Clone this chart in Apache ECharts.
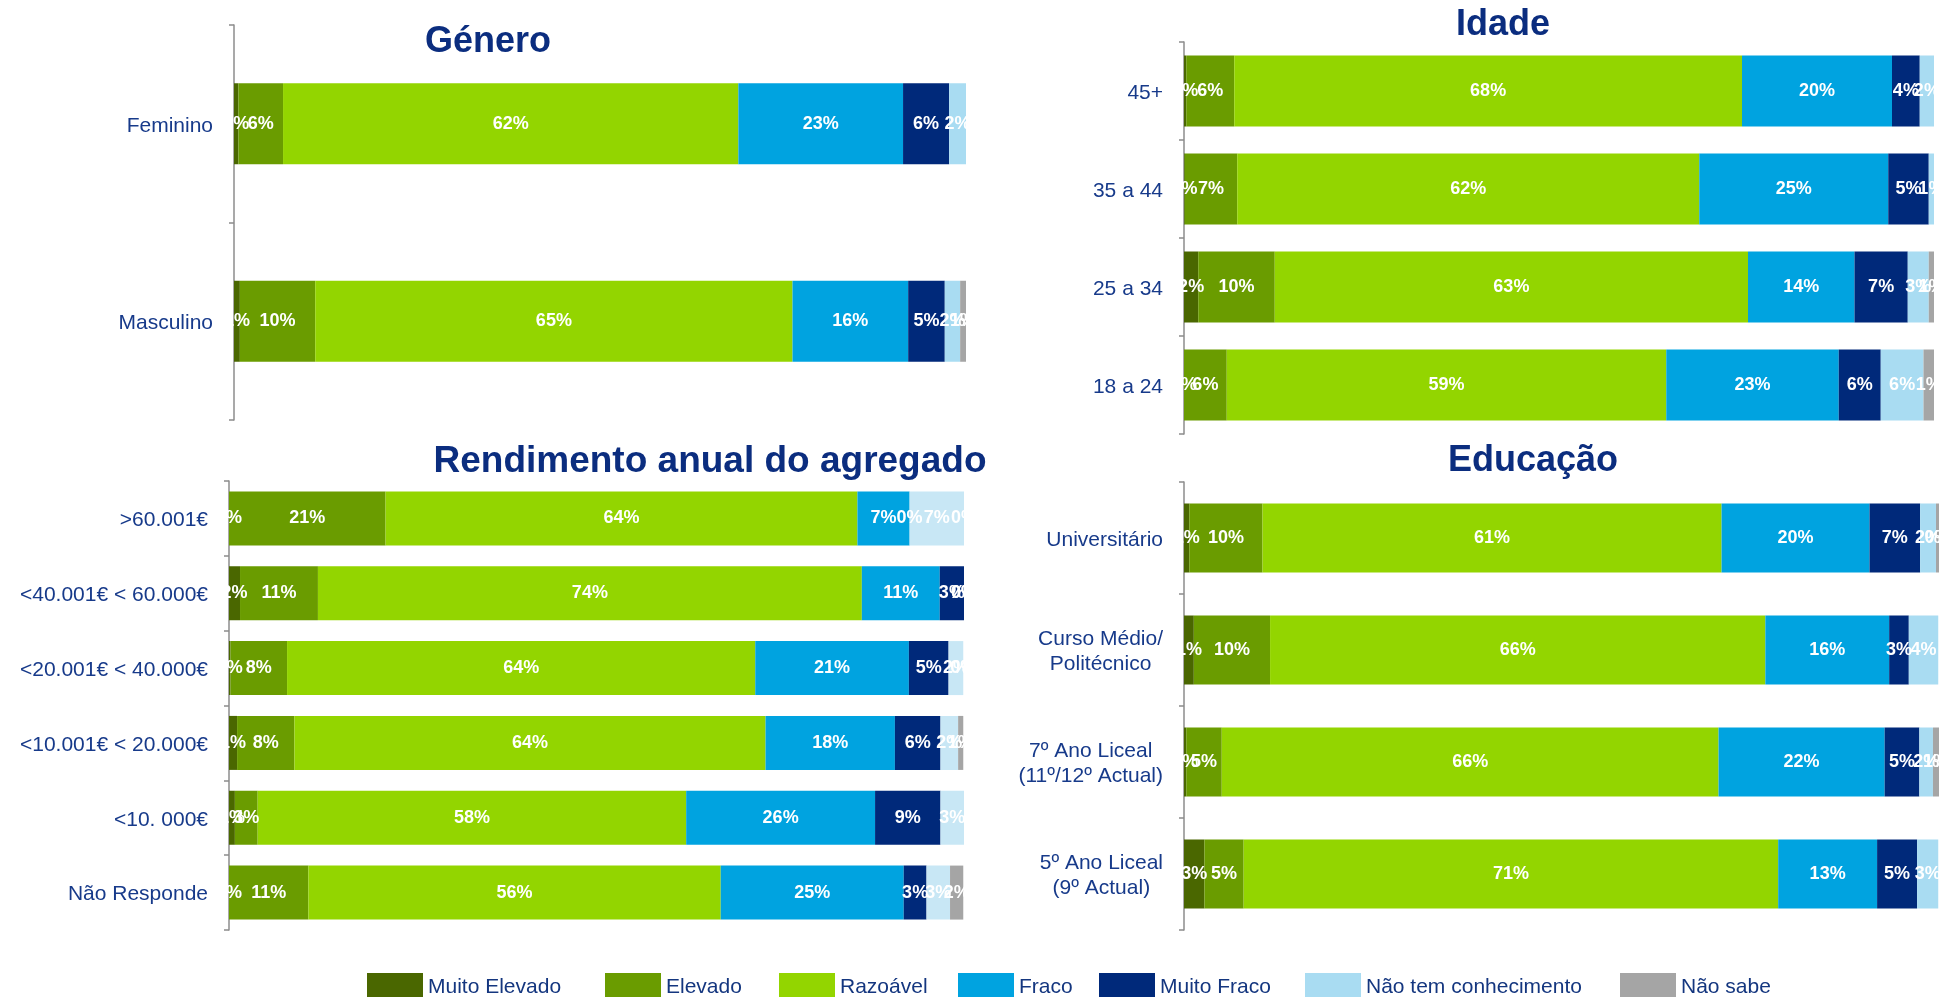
<!DOCTYPE html>
<html>
<head>
<meta charset="utf-8">
<script src="https://cdn.jsdelivr.net/npm/echarts@6/dist/echarts.min.js"></script>
<style>
html,body{margin:0;padding:0;background:#fff;}
#chart{width:1939px;height:997px;}
</style>
</head>
<body>
<div id="chart"></div>
<script>
// ---------- DATA ----------
const levels = ['Muito Elevado', 'Elevado', 'Razoável', 'Fraco', 'Muito Fraco', 'Não tem conhecimento', 'Não sabe'];

// Género (values in % per level, in the order of `levels`)
const generoCategories = ['Feminino', 'Masculino'];
const generoFeminino  = [0.6, 6.1, 62.2, 22.5, 6.3, 2.3, null];
const generoMasculino = [0.8, 10.3, 65.2, 15.8, 5.0, 2.1, 0.8];

// Idade
const idadeCategories = ['45+', '35 a 44', '25 a 34', '18 a 24'];
const idade45   = [0.3, 6.4, 67.7, 20.0, 3.7, 1.9, null];
const idade35a44 = [0.1, 7.0, 61.6, 25.2, 5.4, 0.9, null];
const idade25a34 = [1.9, 10.2, 63.1, 14.2, 7.1, 2.8, 0.7];
const idade18a24 = [0, 5.7, 58.6, 23.0, 5.6, 5.7, 1.4];

// Rendimento anual do agregado
const rendCategories = ['>60.001€', '<40.001€ < 60.000€', '<20.001€ < 40.000€', '<10.001€ < 20.000€', '<10. 000€', 'Não Responde'];
const rend60001   = [0, 21.3, 64.2, 7.1, 0, 7.4, 0];
const rend40a60   = [1.5, 10.6, 74.0, 10.6, 3.3, 0, 0];
const rend20a40   = [0.2, 7.7, 63.7, 20.9, 5.4, 2.0, 0];
const rend10a20   = [1.1, 7.8, 64.1, 17.6, 6.2, 2.4, 0.7];
const rend10000   = [0.8, 3.1, 58.3, 25.7, 8.9, 3.3, 0];
const rendNaoResp = [0, 10.8, 56.1, 24.9, 3.1, 3.2, 1.8];

// Educação
const eduCategories = ['Universitário', 'Curso Médio/\nPolitécnico', '7º Ano Liceal\n(11º/12º Actual)', '5º Ano Liceal\n(9º Actual)'];
const eduUniversitario = [0.7, 9.7, 60.8, 19.6, 6.7, 2.1, 0.4];
const eduCursoMedio    = [1.3, 10.1, 65.6, 16.4, 2.6, 3.9, null];
const edu7Ano          = [0.3, 4.7, 65.8, 22.0, 4.6, 1.8, 0.8];
const edu5Ano          = [2.7, 5.2, 70.8, 13.1, 5.3, 2.8, null];

// ---------- STYLE ----------
const FONT = '"Liberation Sans", Arial, sans-serif';
const levelColors = ['#4A6700', '#6A9C00', '#93D500', '#00A3E0', '#00297A', '#A9DCF2', '#A5A5A5'];
const TITLE_COLOR = '#0B2D7F';
const LABEL_COLOR = '#173A8A';

const panels = [
  { key: 'g', cats: generoCategories, rows: [generoFeminino, generoMasculino],
    grid: { left: 234, top: 25, width: 732, height: 395 }, barWidth: 81 },
  { key: 'i', cats: idadeCategories, rows: [idade45, idade35a44, idade25a34, idade18a24],
    grid: { left: 1184, top: 42, width: 750, height: 392 }, barWidth: 71 },
  { key: 'r', cats: rendCategories, rows: [rend60001, rend40a60, rend20a40, rend10a20, rend10000, rendNaoResp],
    grid: { left: 229, top: 481, width: 735, height: 449 }, barWidth: 54, ntc: '#C8E7F5' },
  { key: 'e', cats: eduCategories, rows: [eduUniversitario, eduCursoMedio, edu7Ano, edu5Ano],
    grid: { left: 1184, top: 482, width: 756, height: 448 }, barWidth: 69 }
];

const grids = [], xAxes = [], yAxes = [], series = [];
panels.forEach((p, idx) => {
  grids.push(Object.assign({ containLabel: false }, p.grid));
  xAxes.push({ type: 'value', gridIndex: idx, min: 0, max: 100, show: false });
  yAxes.push({
    type: 'category', gridIndex: idx, inverse: true, data: p.cats,
    axisLine: { show: true, lineStyle: { color: '#8C8C8C', width: 1.5 } },
    axisTick: { show: true, length: 5, lineStyle: { color: '#8C8C8C', width: 1.5 } },
    axisLabel: {
      margin: 21, color: LABEL_COLOR, fontSize: 21, fontFamily: FONT, align: 'right',
      lineHeight: 25, padding: [4, 0, 0, 0],
      formatter: function (v) {
        if (v.indexOf('\n') < 0) return v;
        return v.split('\n').map(function (l) { return '{c|' + l + '}'; }).join('\n');
      },
      rich: { c: { align: 'center', color: LABEL_COLOR, fontSize: 21, fontFamily: FONT, lineHeight: 25 } }
    }
  });
  levels.forEach(function (name, j) {
    let color = levelColors[j];
    if (j === 5 && p.ntc) color = p.ntc;
    series.push({
      name: name, type: 'bar', stack: p.key, xAxisIndex: idx, yAxisIndex: idx,
      barWidth: p.barWidth,
      data: p.rows.map(function (r) { return r[j]; }),
      itemStyle: { color: color },
      label: {
        show: true, position: 'inside', color: '#FFFFFF', fontWeight: 'bold', fontSize: 18, fontFamily: FONT,
        formatter: function (prm) { return Math.round(prm.value) + '%'; }
      },
      emphasis: { disabled: true }
    });
  });
});

const legendX = [367, 605, 779, 958, 1099, 1305, 1620];
const legends = levels.map(function (name, j) {
  return {
    data: [name], left: legendX[j], top: 973, orient: 'horizontal',
    icon: 'rect', itemWidth: 56, itemHeight: 28, padding: 0,
    selectedMode: false,
    textStyle: { color: '#14367F', fontSize: 21, fontFamily: FONT }
  };
});

const titleText = function (text, x, y, size) {
  return { type: 'text', x: x, y: y, style: { text: text, fill: TITLE_COLOR, font: 'bold ' + size + 'px ' + FONT, align: 'center', verticalAlign: 'middle' } };
};

const chart = echarts.init(document.getElementById('chart'), null, { renderer: 'canvas' });
chart.setOption({
  backgroundColor: '#FFFFFF',
  animation: false,
  textStyle: { fontFamily: FONT },
  grid: grids, xAxis: xAxes, yAxis: yAxes, series: series,
  legend: legends,
  graphic: [
    titleText('Género', 488, 42, 36),
    titleText('Idade', 1503, 25, 36),
    titleText('Rendimento anual do agregado', 710, 462, 37),
    titleText('Educação', 1533, 461, 36)
  ]
});
</script>
</body>
</html>
